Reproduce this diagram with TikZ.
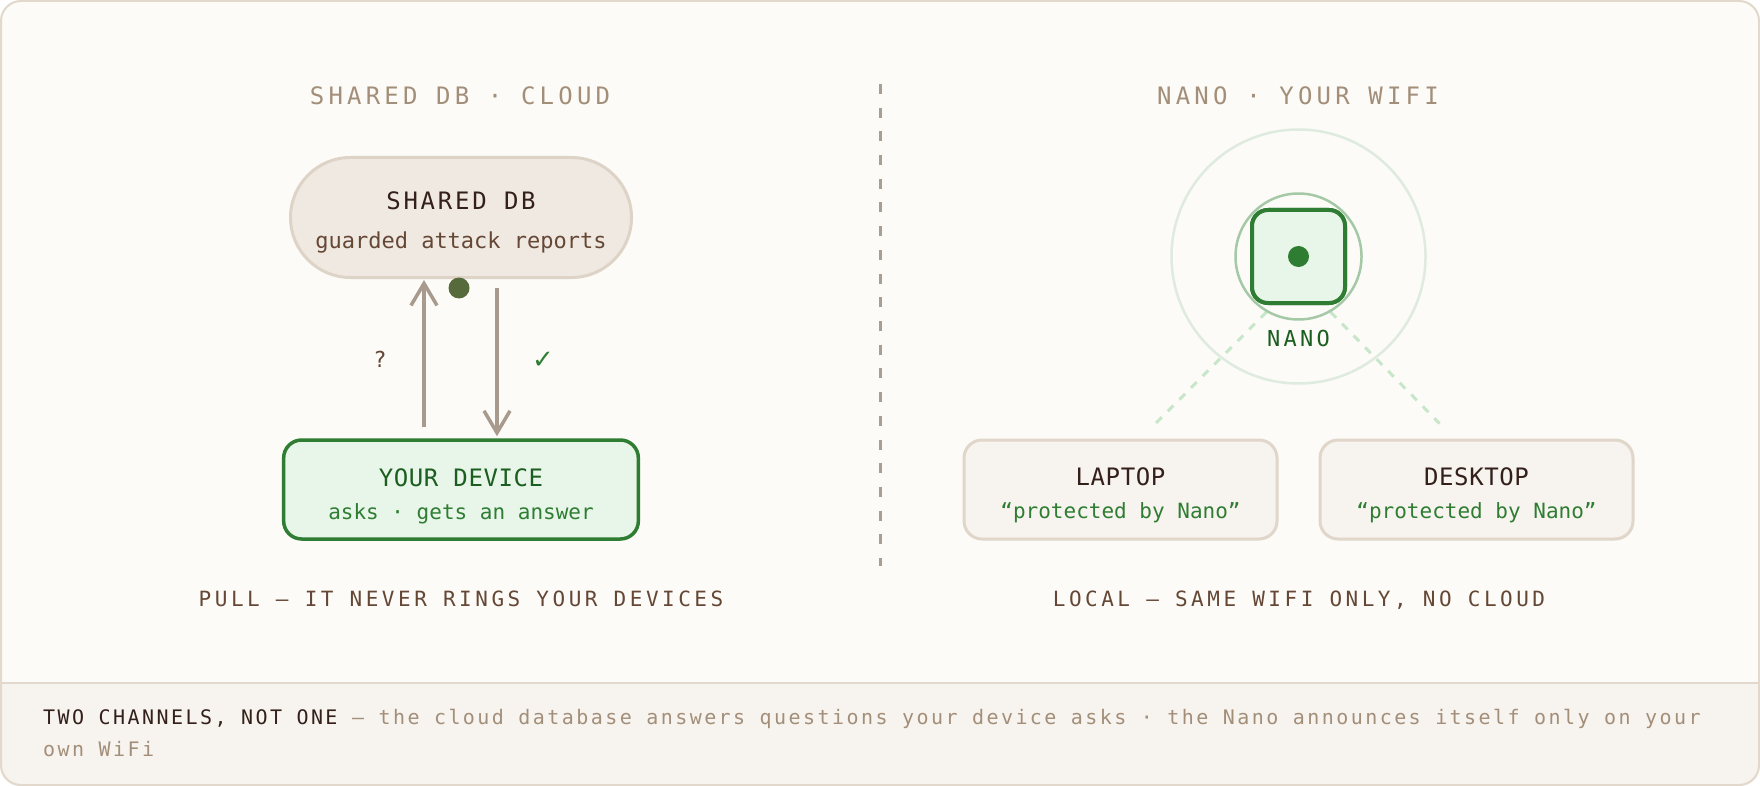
\documentclass[tikz,border=0pt]{standalone}
\usepackage{fontspec}
\setmonofont{DejaVu Sans Mono}
\newfontfamily\symfont{DejaVu Sans}
\usetikzlibrary{arrows.meta,calc}

\definecolor{paper}{HTML}{FCFBF7}
\definecolor{footfill}{HTML}{F7F3EE}
\definecolor{rim}{HTML}{E2D9CC}
\definecolor{tan}{HTML}{A38F79}
\definecolor{ink}{HTML}{33201B}
\definecolor{bark}{HTML}{654736}
\definecolor{pillfill}{HTML}{F0E9E1}
\definecolor{pillrim}{HTML}{DDD3C7}
\definecolor{shaft}{HTML}{A89A8C}
\definecolor{olive}{HTML}{566A3B}
\definecolor{leaf}{HTML}{2E7D32}
\definecolor{deepleaf}{HTML}{1B5E20}
\definecolor{mint}{HTML}{E8F5E9}
\definecolor{halo}{HTML}{A5C9A7}
\definecolor{farhalo}{HTML}{DFEBDF}
\definecolor{wire}{HTML}{C8E6C9}
\definecolor{divgray}{HTML}{A89F94}
\definecolor{cardfill}{HTML}{F7F3EF}
\definecolor{cardrim}{HTML}{E0D6CA}

\def\mono#1#2{\ttfamily\fontsize{#1}{#1}\selectfont\addfontfeature{LetterSpace=#2}}

\tikzset{
	heading/.style={anchor=base, inner sep=0pt, text=tan, font=\mono{24}{17.5}},
	caption/.style={anchor=base, inner sep=0pt, text=bark, font=\mono{21}{16.7}},
	boxtitle/.style={anchor=base, inner sep=0pt, text=ink, font=\mono{24}{2.5}},
	boxnote/.style={anchor=base, inner sep=0pt, text=leaf, font=\mono{21}{0}},
	footnote/.style={anchor=base west, inner sep=0pt, text=tan, font=\mono{20}{12.2}},
	card/.style={draw=cardrim, fill=cardfill, line width=3pt, rounded corners=18pt, minimum width=313pt, minimum height=99pt},
	flow/.style={draw=shaft, line width=3.5pt, -{Straight Barb[length=22pt,width=26pt]}},
	wifi/.style={draw=wire, line width=3pt, dash pattern=on 8pt off 8.5pt}
}

\begin{document}
\begin{tikzpicture}[x=1pt, y=-1pt]
			%%%%% START %%%%%
			\useasboundingbox (0,0) rectangle (1760,786);
			
			% frame and footer band
			\fill[paper, rounded corners=20pt] (0,0) rectangle (1760,786);
			\begin{scope}
				\clip[rounded corners=20pt] (0,0) rectangle (1760,786);
				\fill[footfill] (0,683) rectangle (1760,786);
			\end{scope}
			\draw[rim, line width=2pt] (0,683) -- (1760,683);
			\draw[rim, line width=2pt, rounded corners=20pt] (1,1) rectangle (1759,785);
			
			% divider
			\draw[divgray, line width=3pt, dash pattern=on 10pt off 13.7pt] (880,84) -- (880,566);
			
			% cloud side
			\node[heading] (cloudhead) at (460,105) {SHARED DB · CLOUD};
			
			\node[draw=pillrim, fill=pillfill, line width=3pt, rounded corners=60pt, minimum width=341pt, minimum height=120pt] (shareddb) at (461,217.5) {};
			\node[boxtitle, font=\mono{24}{11.5}] (dbname) at (461,210) {SHARED DB};
			\node[anchor=base, inner sep=0pt, text=bark, font=\mono{22}{0}] (dbnote) at (461,248) {guarded attack reports};
			
			\node[draw=leaf, fill=mint, line width=3.5pt, rounded corners=18pt, minimum width=354.7pt, minimum height=99pt] (device) at (461,489.5) {};
			\node[boxtitle, text=deepleaf] (devname) at (461,486) {YOUR DEVICE};
			\node[boxnote] (devnote) at (461,519) {asks · gets an answer};
			
			\fill[olive] (459,288) circle (10.5);
			\draw[flow] ($(device.north)+(-37,-11)$) -- ($(shareddb.south)+(-37,1)$);
			\draw[flow] ($(shareddb.south)+(36,9)$) -- ($(device.north)+(36,-2)$);
			\node[anchor=base, inner sep=0pt, text=bark, font=\mono{22}{0}] (ask) at (380,367) {?};
			\node[anchor=base, inner sep=0pt, text=leaf, font=\symfont\fontsize{26}{26}\selectfont] (answer) at (543,368) {✓};
			
			\node[caption] (pullnote) at (461,606) {PULL — IT NEVER RINGS YOUR DEVICES};
			
			% wifi side
			\node[heading] (wifihead) at (1298,105) {NANO · YOUR WIFI};
			
			\node[card] (laptop) at (1120.5,489.5) {};
			\node[boxtitle] (lapname) at (1120.5,485) {LAPTOP};
			\node[boxnote] (lapnote) at (1120.5,518) {“protected by Nano”};
			
			\node[card] (desktop) at (1476.5,489.5) {};
			\node[boxtitle] (deskname) at (1476.5,485) {DESKTOP};
			\node[boxnote] (desknote) at (1476.5,518) {“protected by Nano”};
			
			\node[draw=leaf, fill=mint, line width=4pt, rounded corners=16pt, minimum size=93pt] (nano) at (1298.5,256.5) {};
			\draw[wifi] ($(nano.south)+(-32,7)$) -- ($(laptop.north)+(35,-15)$);
			\draw[wifi] ($(nano.south)+(32,7)$) -- ($(desktop.north)+(-37,-15)$);
			\draw[farhalo, line width=2.5pt] (nano.center) circle (127);
			\draw[halo, line width=2.5pt] (nano.center) circle (63);
			\node[draw=leaf, fill=mint, line width=4pt, rounded corners=16pt, minimum size=93pt] at (nano.center) {};
			\fill[leaf] (nano.center) circle (10.5);
			\node[anchor=base, inner sep=0pt, text=deepleaf, font=\mono{22}{14.5}] (nanoname) at (1298.5,346) {NANO};
			
			\node[caption] (localnote) at (1299,606) {LOCAL — SAME WIFI ONLY, NO CLOUD};
			
			% footer
			\node[footnote] (footone) at (43,724) {\textcolor{ink}{TWO CHANNELS, NOT ONE} — the cloud database answers questions your device asks · the Nano announces itself only on your};
			\node[footnote] (foottwo) at (43,756) {own WiFi};
			
			%%%%% END %%%%%
		\end{tikzpicture}
\end{document}
